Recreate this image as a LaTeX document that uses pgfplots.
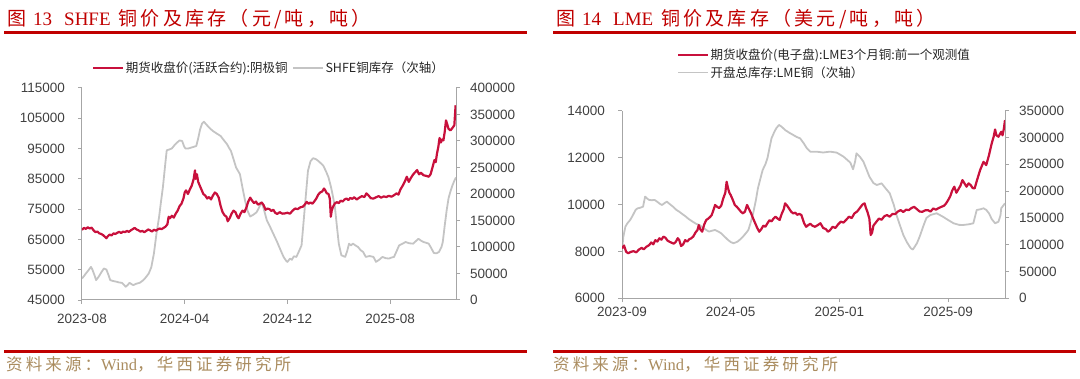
\documentclass[border=0pt]{standalone}
\usepackage{fontspec}
\setmainfont{Liberation Sans}
\newfontfamily\cjk{Noto Sans CJK SC}
\newfontfamily\cjktitle[LetterSpace=17]{Noto Sans CJK SC}
\newfontfamily\cjksrc[LetterSpace=19]{Noto Sans CJK SC}
\newfontfamily\serifl{Liberation Serif}
\usepackage{pgfplots}
\pgfplotsset{compat=1.18}
\definecolor{titlered}{RGB}{192,0,0}
\definecolor{serred}{RGB}{200,16,60}
\definecolor{sergray}{RGB}{196,196,196}
\definecolor{axgray}{RGB}{166,166,166}
\definecolor{ticktext}{RGB}{64,64,64}
\definecolor{legtext}{RGB}{38,38,38}
\definecolor{srcbrown}{RGB}{170,140,95}

\pgfplotsset{
  base/.style={
    scale only axis,
    anchor=south west,
    /pgf/number format/assume math mode=true,
    /pgf/number format/1000 sep={},
    /pgf/number format/fixed,
    scaled y ticks=false,
    tick align=outside,
    major tick length=4pt,
    tick style={axgray, line width=1pt},
    axis line style={axgray, line width=1pt},
    ticklabel style={font=\fontsize{13.5}{16}\selectfont, text=ticktext},
    xtick={0,8,16,24},
    legend cell align=left,
    legend style={draw=none, fill=none, inner sep=0pt, outer sep=0pt,
      font=\cjk\fontsize{12.5}{15}\selectfont, text=legtext,
      nodes={inner sep=1.5pt}},
    legend image code/.code={\draw[#1] (0pt,0pt) -- (30pt,0pt);},
  },
  leftax/.style={axis y line*=left, axis x line=none,
    yticklabel style={inner sep=0pt, xshift=-13pt}},
  rightax/.style={axis y line*=right, axis x line*=bottom,
    yticklabel style={inner sep=0pt, xshift=10pt}},
  redl/.style={serred, line width=2.2pt, line join=round},
  grayl/.style={sergray, line width=1.8pt, line join=round},
}

\begin{document}
\begin{tikzpicture}[x=1pt,y=1pt]
\path[use as bounding box] (0,0) rectangle (1080,378);

% ---------- titles and rules ----------
\node[anchor=base west, inner sep=0, text=titlered, font=\fontsize{19}{22}\selectfont]
  at (7,352) {\cjk 图\hspace{7pt}\serifl 13\hspace{12pt}SHFE\hspace{8pt}\cjktitle 铜价及库存（元/吨，吨）};
\node[anchor=base west, inner sep=0, text=titlered, font=\fontsize{19}{22}\selectfont]
  at (556,352) {\cjk 图\hspace{7pt}\serifl 14\hspace{12pt}LME\hspace{8pt}\cjktitle 铜价及库存（美元/吨，吨）};
\fill[titlered] (4,343.5) rectangle (527,346.5);
\fill[titlered] (553,343.5) rectangle (1076,346.5);
\fill[titlered] (4,25) rectangle (527,28);
\fill[titlered] (553,25) rectangle (1076,28);
\node[anchor=base west, inner sep=0, text=srcbrown, font=\fontsize{16.5}{19}\selectfont]
  at (6,8) {\cjksrc 资料来源：\serifl Wind\cjksrc ，华西证券研究所};
\node[anchor=base west, inner sep=0, text=srcbrown, font=\fontsize{16.5}{19}\selectfont]
  at (553,8) {\cjksrc 资料来源：\serifl Wind\cjksrc ，华西证券研究所};

% ---------- Panel 1: SHFE ----------
\begin{axis}[base, rightax, at={(82pt,78pt)}, width=374pt, height=212pt,
  xmin=0, xmax=29.13, ymin=0, ymax=400000, ytick={0,50000,...,400000},
  xticklabel style={inner sep=0pt, yshift=-10pt},
  xticklabels={2023-08,2024-04,2024-12,2025-08}]
\addplot[grayl] coordinates {
(0.00,40600)(0.15,45000)(0.30,50000)(0.50,56000)(0.70,62500)(0.80,58000)(1.00,45000)(1.10,37500)
(1.30,44000)(1.50,52000)(1.70,59400)(1.90,57500)(2.05,48000)(2.20,37500)(2.40,36000)(2.70,34400)
(2.90,33000)(3.10,32500)(3.30,28000)(3.40,25000)(3.55,28000)(3.70,32500)(3.85,30000)(4.00,28100)
(4.20,30500)(4.50,32500)(4.70,36000)(4.90,40600)(5.20,50000)(5.40,62000)(5.60,87500)(5.80,125000)
(6.00,156000)(6.15,185000)(6.30,212500)(6.50,260000)(6.60,282500)(6.80,284000)(7.00,286000)
(7.20,292000)(7.40,297000)(7.60,301000)(7.80,300000)(7.95,290000)(8.05,286000)(8.30,286000)
(8.50,287500)(8.70,289000)(8.90,290600)(9.05,305000)(9.20,321900)(9.35,333000)(9.50,336300)
(9.65,332000)(9.80,328100)(10.00,323000)(10.20,318800)(10.50,314000)(10.80,309400)(11.00,303000)
(11.30,293800)(11.50,285000)(11.60,281300)(11.80,266000)(12.00,250000)(12.30,237500)(12.50,212000)
(12.70,187500)(12.90,168000)(13.10,157500)(13.35,161000)(13.60,165600)(13.80,175000)(14.00,184400)
(14.20,168000)(14.40,150000)(14.60,140600)(14.90,125000)(15.20,109400)(15.45,95000)(15.70,81300)
(15.90,74000)(16.00,71900)(16.20,78100)(16.35,76000)(16.50,82500)(16.70,81300)(16.90,92000)
(17.10,103100)(17.25,145000)(17.40,187500)(17.60,243800)(17.80,262000)(18.00,267500)(18.20,266000)
(18.40,262500)(18.60,258000)(18.80,253100)(19.00,243000)(19.20,231300)(19.40,212500)(19.55,195000)
(19.70,175000)(19.85,140000)(20.00,106300)(20.20,84400)(20.50,81300)(20.65,92000)(20.80,106300)
(20.95,103000)(21.10,106300)(21.30,103000)(21.50,100000)(21.70,94000)(21.90,90600)(22.10,81300)
(22.40,83000)(22.70,81300)(22.90,71900)(23.15,76000)(23.40,81300)(23.65,79000)(23.90,78100)
(24.10,80000)(24.30,81300)(24.50,92000)(24.70,103100)(24.95,106000)(25.20,109400)(25.50,107000)
(25.80,106300)(26.00,111000)(26.20,115600)(26.40,112000)(26.60,109400)(26.80,108000)(27.00,106300)
(27.20,98000)(27.40,88800)(27.60,88000)(27.80,90600)(28.00,100000)(28.10,109400)(28.25,140000)
(28.40,168800)(28.55,192000)(28.70,205000)(28.85,216000)(29.00,225000)(29.13,231300)
};
\end{axis}
\begin{axis}[base, leftax, at={(82pt,78pt)}, width=374pt, height=212pt,
  xmin=0, xmax=29.13, ymin=45000, ymax=115000, ytick={45000,55000,...,115000},
  legend columns=2,
  legend style={at={(0.027,1.094)}, anchor=west,
    /tikz/every even column/.append style={column sep=3pt}}]
\addplot[redl] coordinates {
(0.00,68200)(0.15,68800)(0.30,68500)(0.45,69000)(0.60,68600)(0.75,68900)(0.90,68000)(1.05,67400)
(1.20,67600)(1.35,67000)(1.50,66800)(1.65,66400)(1.80,65800)(1.90,65400)(2.00,66000)(2.15,66600)
(2.30,66300)(2.45,67000)(2.60,66800)(2.75,67200)(2.90,67500)(3.05,67100)(3.20,67600)(3.35,67400)
(3.50,67800)(3.65,67500)(3.80,68000)(3.95,68400)(4.10,68800)(4.25,68300)(4.40,68000)(4.55,67600)
(4.70,67800)(4.85,67400)(5.00,67800)(5.15,68300)(5.30,68000)(5.45,67600)(5.60,68200)(5.75,67900)
(5.90,68300)(6.05,68600)(6.20,68400)(6.35,68800)(6.50,69200)(6.65,70000)(6.75,72500)(6.85,72000)
(7.00,72800)(7.15,72200)(7.30,73500)(7.45,74500)(7.60,76000)(7.75,76800)(7.90,78500)(8.00,80500)
(8.10,81200)(8.25,80000)(8.40,81500)(8.55,82800)(8.70,85000)(8.80,87800)(8.85,85000)(8.95,86500)
(9.05,84000)(9.15,83000)(9.30,81500)(9.45,80000)(9.60,79500)(9.75,78500)(9.90,79000)(10.05,78200)
(10.20,79500)(10.35,80500)(10.50,80000)(10.65,78800)(10.80,76000)(10.95,74000)(11.10,73000)
(11.25,72500)(11.35,71000)(11.50,72000)(11.65,73500)(11.80,74500)(11.95,74000)(12.10,72500)
(12.20,72000)(12.35,73500)(12.50,74500)(12.65,74000)(12.80,75500)(12.95,77500)(13.10,78800)
(13.25,77800)(13.40,77000)(13.55,77500)(13.70,76500)(13.85,76800)(14.00,77200)(14.15,76300)
(14.30,74800)(14.45,75200)(14.60,75000)(14.75,74400)(14.90,74800)(15.05,73800)(15.20,73400)
(15.40,74000)(15.60,73500)(15.80,73600)(16.00,73800)(16.20,73500)(16.40,74500)(16.60,75200)
(16.80,75000)(17.00,75600)(17.20,75800)(17.35,76500)(17.50,77400)(17.65,76800)(17.80,77200)
(17.95,76800)(18.10,77600)(18.25,78500)(18.40,79800)(18.55,80500)(18.70,80800)(18.85,81800)
(18.95,81200)(19.05,80300)(19.20,80000)(19.30,78500)(19.38,72500)(19.45,74500)(19.55,75800)
(19.70,76900)(19.85,77300)(20.00,77000)(20.15,77800)(20.30,77500)(20.45,78200)(20.60,78500)
(20.75,78000)(20.90,78700)(21.05,78400)(21.20,78900)(21.40,78200)(21.60,78800)(21.80,79300)
(22.00,79000)(22.15,80200)(22.30,79600)(22.50,78600)(22.70,78500)(22.90,78900)(23.10,79300)
(23.30,78800)(23.50,79200)(23.70,79000)(23.90,79400)(24.10,79100)(24.30,79600)(24.50,80200)
(24.65,79800)(24.80,81500)(25.00,82900)(25.15,84200)(25.30,85700)(25.45,84000)(25.60,85200)
(25.80,86500)(25.95,87200)(26.10,87900)(26.25,86500)(26.40,87000)(26.60,86200)(26.80,86000)
(27.00,85700)(27.15,86500)(27.30,88800)(27.45,91200)(27.55,90500)(27.65,93400)(27.75,95500)
(27.85,98500)(27.95,97000)(28.05,98000)(28.15,97700)(28.25,100500)(28.35,104300)(28.45,103000)
(28.55,101500)(28.70,101000)(28.85,101800)(29.00,102700)(29.10,109300)
};
\addlegendentry{期货收盘价(活跃合约):阴极铜}
\addlegendimage{grayl}
\addlegendentry{SHFE铜库存（次轴）}
\end{axis}

% ---------- Panel 2: LME ----------
\begin{axis}[base, rightax, at={(622pt,79.7pt)}, width=383pt, height=187.6pt,
  xmin=0, xmax=28.18, ymin=0, ymax=350000, ytick={0,50000,...,350000},
  xticklabel style={inner sep=0pt, yshift=-5pt},
  xticklabels={2023-09,2024-05,2025-01,2025-09}]
\addplot[grayl] coordinates {
(0.00,90000)(0.10,115000)(0.25,133700)(0.40,140000)(0.60,146100)(0.80,155000)(1.00,165000)
(1.15,167900)(1.35,169000)(1.55,171000)(1.70,189700)(1.85,186000)(2.00,183500)(2.20,183000)
(2.40,183500)(2.60,180000)(2.80,176000)(2.95,174100)(3.15,178000)(3.30,180300)(3.50,176000)
(3.75,171000)(4.00,165000)(4.20,161700)(4.45,157000)(4.70,152400)(4.90,148000)(5.20,143000)
(5.45,139000)(5.70,136800)(5.95,132000)(6.20,127500)(6.40,124400)(6.60,126000)(6.85,127500)
(7.05,125000)(7.30,121300)(7.55,115000)(7.80,108800)(8.00,105000)(8.20,102600)(8.50,105700)
(8.70,110000)(8.90,115000)(9.10,121000)(9.30,127500)(9.45,140000)(9.65,158600)(9.85,183000)
(10.00,205200)(10.20,225000)(10.35,239400)(10.55,250000)(10.70,261200)(10.85,280000)(11.00,298500)
(11.20,310000)(11.35,317200)(11.55,323400)(11.75,320000)(12.00,314000)(12.30,309000)(12.60,304700)
(12.85,301000)(13.10,298500)(13.35,290000)(13.60,279900)(13.85,273600)(14.30,273600)(14.80,272000)
(15.30,273600)(15.80,271800)(16.30,264300)(16.80,253100)(17.00,240700)(17.15,255000)(17.25,270500)
(17.50,264300)(17.76,255000)(18.00,240000)(18.20,227000)(18.50,215000)(18.75,211400)(19.10,214500)
(19.40,205000)(19.70,195900)(20.00,174100)(20.20,155000)(20.40,139900)(20.70,118000)(21.00,103000)
(21.25,93300)(21.40,91000)(21.70,102600)(21.90,115000)(22.20,136800)(22.40,150000)(22.70,155500)
(23.15,158600)(23.60,152400)(24.00,146000)(24.40,139900)(24.80,137000)(25.10,136800)(25.50,138000)
(25.85,139900)(26.00,155000)(26.10,164800)(26.35,166000)(26.60,167900)(26.80,165000)(27.00,158600)
(27.20,148000)(27.45,139900)(27.70,143000)(27.85,155000)(27.90,167900)(28.18,177200)
};
\end{axis}
\begin{axis}[base, leftax, at={(622pt,79.7pt)}, width=383pt, height=187.6pt,
  xmin=0, xmax=28.18, ymin=6000, ymax=14000, ytick={6000,8000,...,14000},
  legend style={at={(0.1436,1.249)}, anchor=west, row sep=2pt}]
\addplot[redl] coordinates {
(0.00,8130)(0.15,8250)(0.30,7990)(0.45,7920)(0.65,7980)(0.85,8010)(1.05,7960)(1.25,8080)
(1.45,8150)(1.60,8090)(1.80,8200)(2.00,8270)(2.15,8380)(2.30,8300)(2.45,8480)(2.60,8420)
(2.75,8560)(2.90,8500)(3.05,8630)(3.20,8580)(3.35,8460)(3.50,8410)(3.65,8370)(3.80,8330)
(3.95,8400)(4.10,8560)(4.20,8500)(4.35,8230)(4.50,8300)(4.65,8480)(4.80,8420)(4.95,8520)
(5.10,8560)(5.25,8640)(5.40,8800)(5.55,8910)(5.65,9120)(5.75,8950)(5.90,8840)(6.05,9150)
(6.20,9340)(6.35,9400)(6.50,9480)(6.60,9550)(6.75,9800)(6.85,9980)(7.00,9900)(7.15,9850)
(7.30,9950)(7.45,10260)(7.60,10500)(7.70,10970)(7.80,10700)(7.90,10500)(8.00,10400)(8.15,10200)
(8.30,9980)(8.45,9900)(8.60,9800)(8.75,9690)(8.90,9620)(9.05,9700)(9.20,9980)(9.35,9800)
(9.50,9620)(9.65,9400)(9.80,9200)(9.95,9000)(10.10,8840)(10.25,8950)(10.40,9100)(10.55,9050)
(10.70,9200)(10.85,9330)(11.00,9280)(11.15,9400)(11.30,9480)(11.45,9400)(11.60,9340)(11.75,9600)
(11.90,9800)(12.00,10050)(12.15,9950)(12.30,9820)(12.45,9690)(12.60,9620)(12.75,9650)(12.90,9560)
(13.05,9600)(13.20,9550)(13.40,9200)(13.55,9050)(13.70,9120)(13.85,9180)(14.00,9100)(14.20,9050)
(14.40,9120)(14.60,9200)(14.80,9000)(15.00,8950)(15.15,8840)(15.30,8900)(15.50,9050)(15.70,9000)
(15.90,9150)(16.10,9270)(16.30,9230)(16.50,9350)(16.70,9480)(16.90,9420)(17.10,9620)(17.30,9700)
(17.50,9850)(17.70,10000)(17.85,10050)(17.95,9850)(18.05,9700)(18.20,9400)(18.30,8700)(18.40,8800)
(18.50,9100)(18.70,9250)(18.90,9400)(19.10,9350)(19.30,9500)(19.50,9550)(19.70,9480)(19.90,9600)
(20.10,9590)(20.30,9700)(20.50,9760)(20.70,9680)(20.90,9780)(21.10,9760)(21.30,9850)(21.50,9900)
(21.70,9800)(21.90,9700)(22.10,9690)(22.30,9750)(22.50,9760)(22.70,9700)(22.90,9830)(23.10,9780)
(23.30,9850)(23.50,9900)(23.70,9950)(23.85,10050)(24.00,10190)(24.15,10350)(24.30,10600)
(24.45,10760)(24.60,10500)(24.75,10650)(24.90,10800)(25.05,11040)(25.20,10900)(25.35,10760)
(25.50,10900)(25.65,10830)(25.80,10700)(25.95,10690)(26.10,11000)(26.35,11470)(26.60,11820)
(26.80,11680)(27.00,12100)(27.20,12600)(27.35,12900)(27.45,13200)(27.55,12950)(27.70,12890)
(27.80,13000)(27.90,13100)(28.00,12950)(28.10,13250)(28.18,13600)
};
\addlegendentry{期货收盘价(电子盘):LME3个月铜:前一个观测值}
\addlegendimage{grayl}
\addlegendentry{开盘总库存:LME铜（次轴）}
\end{axis}
\end{tikzpicture}
\end{document}
